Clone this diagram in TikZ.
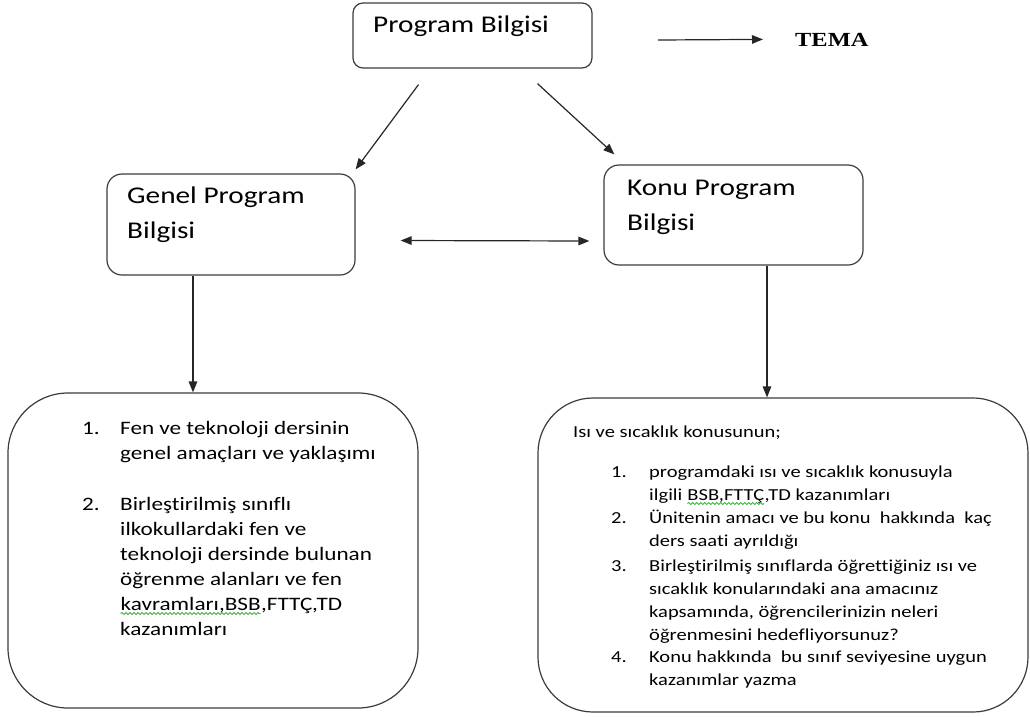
\documentclass[tikz,border=0pt]{standalone}
\usepackage{fontspec}
\usetikzlibrary{arrows.meta,calc,decorations.pathmorphing}
\newfontfamily\calfont[FakeStretch=1.22,Ligatures=NoCommon]{Carlito}
\newfontfamily\timesfont[FakeStretch=1.22]{Liberation Serif}
\definecolor{spell}{RGB}{70,175,70}
\definecolor{edge}{RGB}{60,60,60}
% green wavy underline of the spell checker
\newcommand\gwave[1]{\tikz[baseline=(w.base)]{\node[inner sep=0pt,outer sep=0pt] (w) {#1};
  \draw[spell,line width=0.9pt,decorate,decoration={snake,amplitude=1pt,segment length=4pt}]
    ([yshift=-3.5pt]w.base west) -- ([yshift=-3.5pt]w.base east);}}
\begin{document}
\begin{tikzpicture}[x=1pt,y=-1pt,
  box/.style={draw=edge,line width=1.2pt,inner sep=0pt,fill=white},
  arr/.style={line width=1.2pt,draw=black!85,-{Triangle[length=11pt,width=8.5pt]}},
  darr/.style={line width=1.2pt,draw=black!85,{Triangle[length=11pt,width=8.5pt]}-{Triangle[length=11pt,width=8.5pt]}},
  head/.style={inner sep=0pt,anchor=base west,font=\calfont\fontsize{24}{40}\selectfont},
  numL/.style={inner sep=0pt,anchor=base west,font=\calfont\fontsize{19}{25}\selectfont},
  numR/.style={inner sep=0pt,anchor=base west,font=\calfont\fontsize{16.8}{23}\selectfont},
]
\useasboundingbox (0,0) rectangle (1030,716);

% boxes
\node[box,rounded corners=10pt,minimum width=239pt,minimum height=65pt] (prog) at (472.5,35.5) {};
\node[box,rounded corners=15pt,minimum width=248pt,minimum height=101pt] (genel) at (231,224.5) {};
\node[box,rounded corners=15pt,minimum width=259pt,minimum height=100pt] (konu) at (733.5,215) {};
\node[box,rounded corners=60pt,minimum width=410pt,minimum height=315pt] (left) at (213,550.5) {};
\node[box,rounded corners=55pt,minimum width=490pt,minimum height=314pt] (right) at (783,555) {};

% box titles
\node[head] (progT) at (373,32) {Program Bilgisi};
\node[head] (genelT1) at (127,203) {Genel Program};
\node[head] (genelT2) at (127,238) {Bilgisi};
\node[head] (konuT1) at (627,195) {Konu Program};
\node[head] (konuT2) at (627,230) {Bilgisi};

% theme marker
\coordinate (temaS) at (658,40);
\node[inner sep=0pt,anchor=base west,font=\timesfont\bfseries\fontsize{20}{24}\selectfont] (tema) at (795,46) {TEMA};
\draw[arr] (temaS) -- ($(tema.west)+(-32,0)$);

% connectors
\draw[arr] ($(prog.south)+(-54,16)$) -- ($(genel.north east)+(0,-4)$);
\draw[arr] ($(prog.south)+(65,15)$) -- ($(konu.north west)+(11,-10)$);
\draw[darr] ($(genel.east)+(45,16)$) -- ($(konu.west)+(-14,26)$);
\draw[arr] ($(genel.south)+(-38,0)$) -- ($(left.north)+(-20,0)$);
\draw[arr] ($(konu.south)+(33.5,0)$) -- ($(right.north)+(-16,0)$);

% general programme list
\node[numL] (l1) at (82,434) {1.};
\node[numL] (l1t) at (120,434) {\parbox[t]{290pt}{\raggedright
  Fen ve teknoloji dersinin\\genel amaçları ve yaklaşımı}};
\node[numL] (l2) at (82,510) {2.};
\node[numL] (l2t) at (120,510) {\parbox[t]{290pt}{\raggedright
  Birleştirilmiş sınıflı\\ilkokullardaki fen ve\\teknoloji dersinde bulunan\\öğrenme alanları ve fen\\\gwave{kavramları,BSB},FTTÇ,TD\\kazanımları}};

% topic programme list
\node[numR] (rh) at (573,437) {Isı ve sıcaklık konusunun;};
\node[numR] (r1) at (611,477) {1.};
\node[numR] (r1t) at (649,477) {\parbox[t]{370pt}{\raggedright
  programdaki ısı ve sıcaklık konusuyla\\ilgili \gwave{BSB,FTTÇ},TD kazanımları}};
\node[numR] (r2) at (611,523) {2.};
\node[numR] (r2t) at (649,523) {\parbox[t]{370pt}{\raggedright
  Ünitenin amacı ve bu konu\ \ hakkında\ \ kaç\\ders saati ayrıldığı}};
\node[numR] (r3) at (611,571) {3.};
\node[numR] (r3t) at (649,571) {\parbox[t]{370pt}{\raggedright
  Birleştirilmiş sınıflarda öğrettiğiniz ısı ve\\sıcaklık konularındaki ana amacınız\\kapsamında, öğrencilerinizin neleri\\öğrenmesini hedefliyorsunuz?}};
\node[numR] (r4) at (611,662) {4.};
\node[numR] (r4t) at (649,662) {\parbox[t]{370pt}{\raggedright
  Konu hakkında\ \ bu sınıf seviyesine uygun\\kazanımlar yazma}};
\end{tikzpicture}
\end{document}
